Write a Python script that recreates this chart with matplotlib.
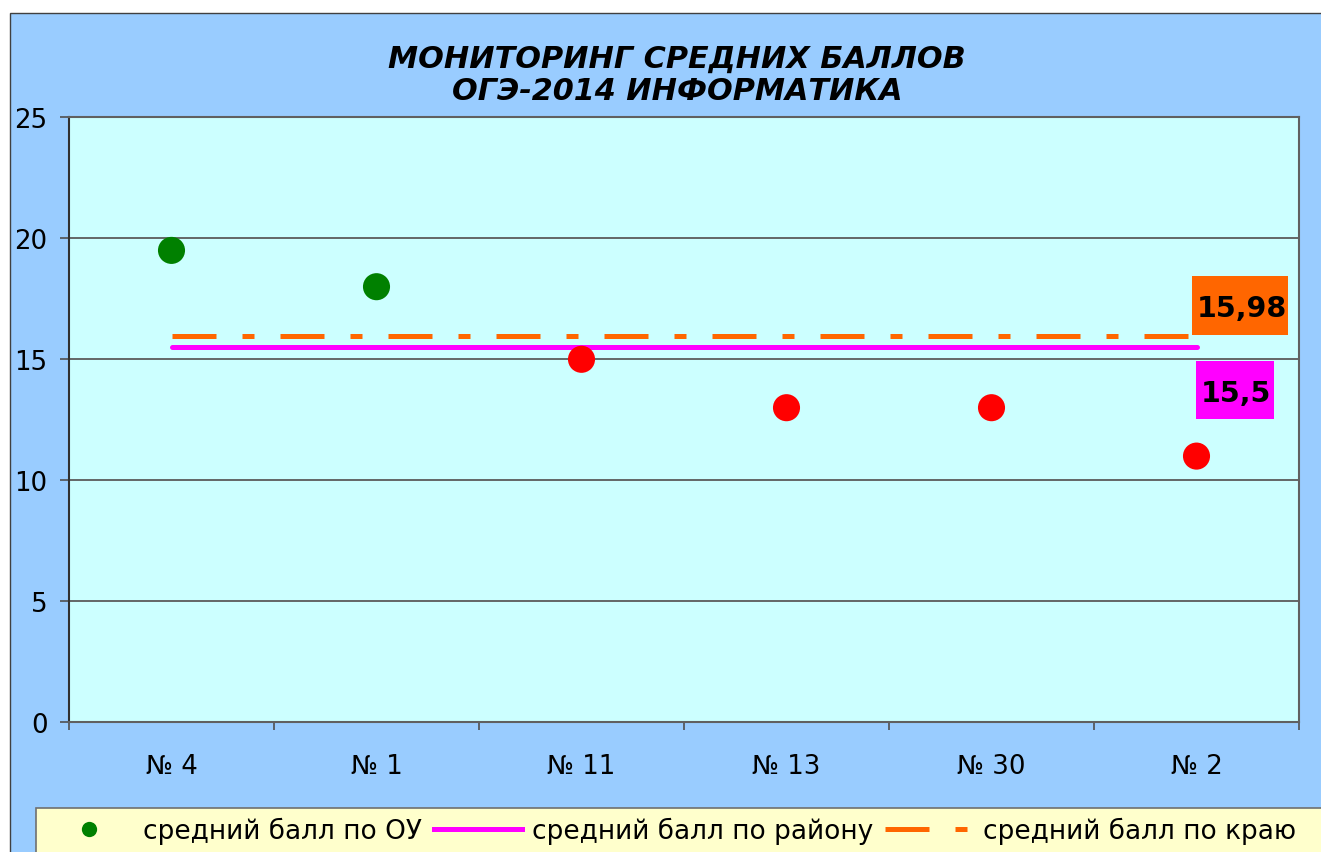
import numpy as np
import matplotlib
matplotlib.use("Agg")
import matplotlib.pyplot as plt
from matplotlib.patches import Rectangle
from matplotlib.lines import Line2D
from matplotlib.transforms import ScaledTranslation

# ---- data ----
schools = ["№ 4", "№ 1", "№ 11", "№ 13", "№ 30", "№ 2"]
school_scores = [19.5, 18.0, 15.0, 13.0, 13.0, 11.0]
district_avg = 15.5
region_avg = 15.98
district_label = "15,5"
region_label = "15,98"
title_lines = ["МОНИТОРИНГ СРЕДНИХ БАЛЛОВ", "ОГЭ-2014 ИНФОРМАТИКА"]
legend_labels = ["средний балл по ОУ", "средний балл по району", "средний балл по краю"]
y_ticks = [0, 5, 10, 15, 20, 25]

W, H = 1321, 853
plt.rcParams['font.family'] = ['DejaVu Sans']
fig = plt.figure(figsize=(W / 100, H / 100), dpi=100)
fig.patch.set_facecolor('white')

def px(x, y):
    return x / W, 1 - y / H

# chart background (blue)
x0, y0 = px(10, 880)
fig.add_artist(Rectangle((x0, y0), 1340 / W, (880 - 14) / H, transform=fig.transFigure,
                         facecolor='#99CCFF', edgecolor='#404040', lw=1, zorder=-10))
# legend background
lx0, ly0 = px(36, 900)
fig.add_artist(Rectangle((lx0, ly0), 1400 / W, (900 - 809) / H, transform=fig.transFigure,
                         facecolor='#FFFFCC', edgecolor='#707070', lw=1.2, zorder=-5))

left, top, right, bottom = 69, 118.3, 1299, 723.3
ax = fig.add_axes([left / W, 1 - bottom / H, (right - left) / W, (bottom - top) / H])
ax.set_facecolor('#CCFFFF')

xpos = np.arange(len(schools))
ax.set_xlim(-0.5, len(schools) - 0.5)
ax.set_ylim(0, 25)
ax.set_yticks(y_ticks)
ax.set_yticklabels([str(v) for v in y_ticks])
ax.yaxis.grid(True, color='#5a5a5a', lw=1.3)
ax.set_axisbelow(True)

ax.set_xticks(np.arange(len(schools) + 1) - 0.5)
ax.set_xticklabels([])
ax.set_xticks(xpos, minor=True)
ax.set_xticklabels(schools, minor=True)
ax.tick_params(axis='x', which='major', length=6, width=1.2, color='#505050', direction='out')
ax.tick_params(axis='x', which='minor', length=0, pad=22, labelsize=18.7)
ax.tick_params(axis='y', length=6.5, width=1.2, color='#505050', pad=9, labelsize=18.7)
for s in ax.spines.values():
    s.set_color('#606060')
    s.set_linewidth(1.5)
ax.spines['left'].set_color('#303030')

# lines
ax.plot(xpos, np.full(len(xpos), district_avg), color='#FF00FF', lw=3.6,
        solid_capstyle='round', zorder=2)
ax.plot(xpos, np.full(len(xpos), region_avg), color='#FF6600', lw=3.6,
        dashes=(8.8, 5.2, 2.4, 5.2), dash_capstyle='butt', zorder=2)

# points
colors = ['#008000' if v >= district_avg else '#FF0000' for v in school_scores]
ax.scatter(xpos, school_scores, s=19.5 ** 2, c=colors, linewidths=0, zorder=3)

# data labels with boxes (offsets in pixels at 100 dpi)
def label_box(yval, rect, text_off, txt, fc):
    trans = fig.dpi_scale_trans + ScaledTranslation(xpos[-1], yval, ax.transData)
    ax.add_artist(Rectangle((rect[0] / 100, rect[1] / 100), rect[2] / 100, rect[3] / 100,
                            transform=trans, facecolor=fc, edgecolor='none', zorder=4,
                            clip_on=False))
    ax.annotate(txt, xy=(xpos[-1], yval), xytext=(text_off[0] * 0.72, text_off[1] * 0.72),
                textcoords='offset points', ha='center', va='baseline',
                fontsize=20.5, fontweight='bold', color='black', zorder=5,
                annotation_clip=False)

label_box(region_avg, (-5, 1, 96, 58.3), (45.6, 19.3), region_label, '#FF6600')
label_box(district_avg, (-0.7, -71.6, 77.7, 57.6), (39.6, -54), district_label, '#FF00FF')

# title
fig.text(677 / W, 1 - 68 / H, title_lines[0], ha='center', va='baseline',
         fontsize=21.8, fontweight='bold', fontstyle='italic')
fig.text(677 / W, 1 - 100 / H, title_lines[1], ha='center', va='baseline',
         fontsize=21.8, fontweight='bold', fontstyle='italic')

# legend
handles = [
    Line2D([], [], ls='none', marker='o', markersize=11, color='#008000', markeredgewidth=0),
    Line2D([], [], color='#FF00FF', lw=3.6),
    Line2D([], [], color='#FF6600', lw=3.6, dashes=(8.8, 5.2, 2.4, 5.2), dash_capstyle='butt'),
]
fig.legend(handles, legend_labels, loc='upper left', bbox_to_anchor=px(36, 809),
           ncol=3, frameon=False, fontsize=19, handlelength=3.33, handletextpad=0.38,
           columnspacing=0.45, borderpad=0.34, borderaxespad=0)

fig.savefig('out.png', dpi=100, facecolor=fig.get_facecolor())
